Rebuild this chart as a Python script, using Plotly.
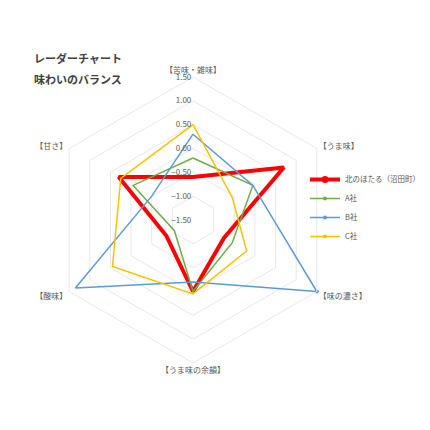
import plotly.graph_objects as go

# axes go clockwise from the top, like the Excel radar
axes = ['【苦味・雑味】', '【うま味】', '【味の濃さ】', '【うま味の余韻】', '【酸味】', '【甘さ】']

kita = [-0.6, 0.7, -0.75, 0.0, -0.85, 0.3]
a_sha = [-0.2, -0.05, -0.55, 0.0, -1.05, -0.05]
b_sha = [0.3, -0.05, 1.5, -0.2, 1.35, -0.5]
c_sha = [0.5, -0.55, -0.2, 0.05, 0.45, 0.25]

series = [
    ('北のほたる（沼田町）', kita, '#ff0000', 4, 7),
    ('A社', a_sha, '#70ad47', 1.5, 4),
    ('B社', b_sha, '#5b9bd5', 1.5, 4),
    ('C社', c_sha, '#ffc000', 1.5, 4),
]

font = 'Noto Sans CJK JP'
gray = '#595959'

# page body keeps its 8px margin, so the figure is 414 wide and
# reference pixel positions are shifted by 8
W = 414
OFF = 8


def px(x):
    return (x - OFF) / W


def py(y):
    return 1 - (y - OFF) / W


cx, cy, rad = 193, 220, 143

fig = go.Figure()
for name, vals, color, width, msize in series:
    fig.add_trace(go.Scatterpolar(
        r=vals + vals[:1],
        theta=axes + axes[:1],
        mode='lines+markers',
        name=name,
        line=dict(color=color, width=width),
        marker=dict(color=color, size=msize),
    ))

fig.update_layout(
    width=W, height=W,
    # legend sticks out on the right; don't let it push the margins
    margin=dict(l=0, r=0, t=0, b=0, autoexpand=False),
    paper_bgcolor='white',
    font=dict(family=font, color=gray, size=8),
    polar=dict(
        domain=dict(x=[px(cx - rad), px(cx + rad)], y=[py(cy + rad), py(cy - rad)]),
        bgcolor='white',
        gridshape='linear',
        radialaxis=dict(
            range=[-1.5, 1.5], dtick=0.5, tickformat='.2f',
            angle=90, tickangle=90, side='counterclockwise',
            showline=False, ticks='', gridcolor='#e8e8e8',
            tickfont=dict(size=8, color=gray),
        ),
        angularaxis=dict(
            direction='clockwise', rotation=90,
            showgrid=False, linecolor='#e8e8e8', ticks='',
            tickfont=dict(size=8, color=gray),
        ),
    ),
    legend=dict(
        x=px(305), y=py(165), xanchor='left', yanchor='top',
        font=dict(size=7.5, color=gray), bgcolor='rgba(0,0,0,0)',
        itemwidth=30, tracegroupgap=0,
    ),
    annotations=[
        dict(text='レーダーチャート', x=px(32), y=py(58), xref='paper', yref='paper',
             xanchor='left', yanchor='middle', showarrow=False,
             font=dict(size=11, color='#404040', family=font, weight=600)),
        dict(text='味わいのバランス', x=px(32), y=py(79), xref='paper', yref='paper',
             xanchor='left', yanchor='middle', showarrow=False,
             font=dict(size=11, color='#404040', family=font, weight=600)),
    ],
)

fig.write_html('out.html')
